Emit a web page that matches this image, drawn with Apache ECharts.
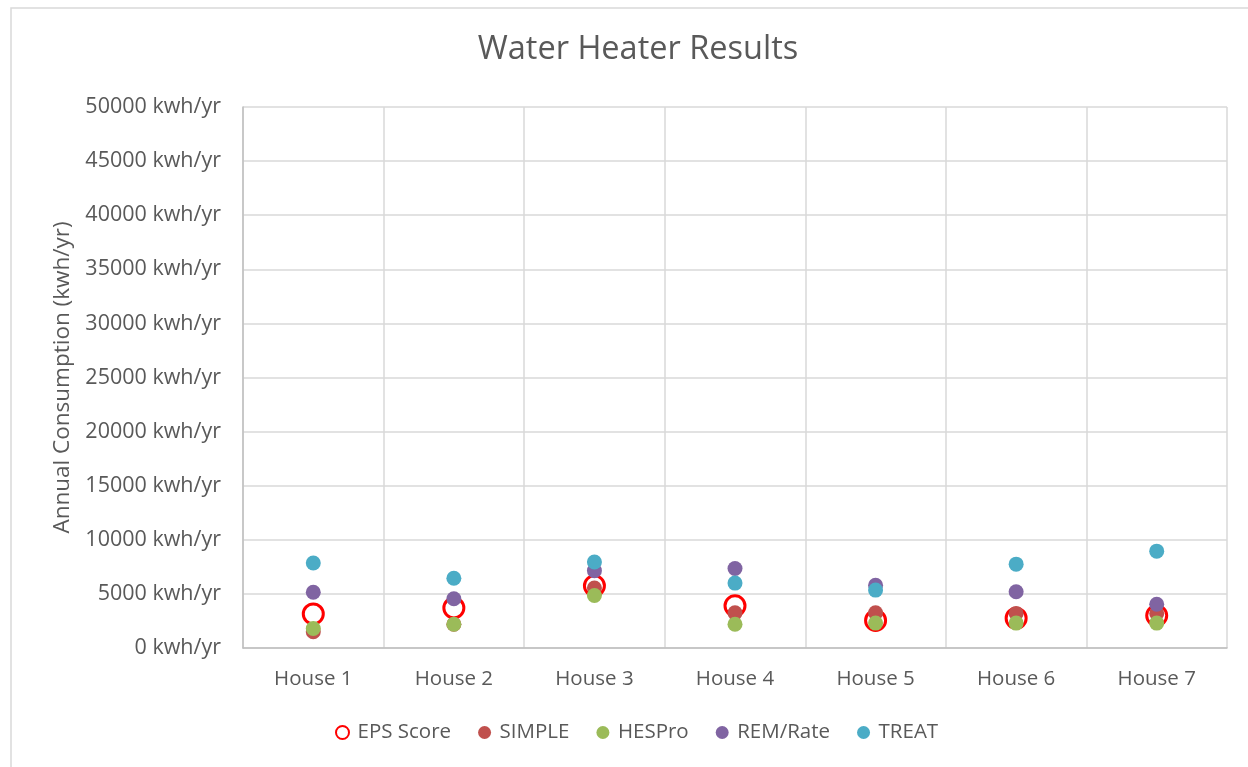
<!DOCTYPE html>
<html lang="en">
<head>
    <meta charset="utf-8">
    <title>Water Heater Results</title>
    <script src="https://cdn.jsdelivr.net/npm/echarts@6/dist/echarts.min.js"></script>
    <style>
        html, body { margin: 0; padding: 0; background: #fff; }
    </style>
</head>
<body>
<div id="main" style="width:1248px;height:767px;"></div>
<script>
    // data
    var houses = ['House 1', 'House 2', 'House 3', 'House 4', 'House 5', 'House 6', 'House 7'];
    var epsScore = [3150, 3700, 5750, 3900, 2550, 2750, 3000];
    var simple   = [1500, 2200, 5550, 3250, 3250, 3200, 3200];
    var hesPro   = [1800, 2200, 4850, 2200, 2300, 2300, 2300];
    var remRate  = [5150, 4550, 7150, 7350, 5800, 5200, 4050];
    var treat    = [7850, 6450, 7950, 6000, 5350, 7750, 8950];

    var textColor = '#595959';
    var font = 'Open Sans';

    var mCharts = echarts.init(document.getElementById('main'));

    function dots(name, data, color) {
        return {
            name: name,
            type: 'scatter',
            data: data,
            symbol: 'circle',
            symbolSize: 15,
            itemStyle: { color: color, opacity: 1 }
        };
    }

    var option = {
        animation: false,
        backgroundColor: '#fff',
        graphic: [{
            type: 'rect',
            shape: { x: 11, y: 8, width: 1400, height: 900 },
            style: { fill: 'none', stroke: '#D9D9D9', lineWidth: 1.5 },
            z: -1
        }],
        title: {
            text: 'Water Heater Results',
            left: 633,
            textAlign: 'center',
            top: 28,
            textStyle: { color: textColor, fontFamily: font, fontSize: 32.5, fontWeight: 'normal' }
        },
        legend: {
            bottom: 19,
            left: 330,
            itemWidth: 20,
            itemHeight: 13,
            itemGap: 27,
            textStyle: { color: textColor, fontFamily: font, fontSize: 20.5 },
            data: ['EPS Score', 'SIMPLE', 'HESPro', 'REM/Rate', 'TREAT']
        },
        grid: { left: 243, right: 21, top: 107, bottom: 119 },
        xAxis: {
            type: 'category',
            data: houses,
            boundaryGap: true,
            axisTick: { show: false },
            axisLine: { lineStyle: { color: '#BFBFBF', width: 1.5 } },
            splitLine: { show: true, lineStyle: { color: '#D9D9D9', width: 1.5 } },
            axisLabel: { color: textColor, fontFamily: font, fontSize: 20.5, margin: 21 }
        },
        yAxis: {
            type: 'value',
            min: 0,
            max: 50000,
            interval: 5000,
            name: 'Annual Consumption (kwh/yr)',
            nameLocation: 'middle',
            nameGap: 168,
            nameTextStyle: { color: textColor, fontFamily: font, fontSize: 22.5 },
            axisLine: { show: true, lineStyle: { color: '#BFBFBF', width: 1.5 } },
            axisTick: { show: false },
            splitLine: { lineStyle: { color: '#D9D9D9', width: 1.5 } },
            axisLabel: {
                color: textColor, fontFamily: font, fontSize: 21.5, margin: 22,
                formatter: function (v) { return v + ' kwh/yr'; }
            }
        },
        series: [
            {
                name: 'EPS Score',
                type: 'scatter',
                data: epsScore,
                symbol: 'circle',
                symbolSize: 20,
                itemStyle: { color: 'rgba(255,255,255,0)', borderColor: '#FF0000', borderWidth: 3, opacity: 1 }
            },
            dots('SIMPLE', simple, '#C0504D'),
            dots('HESPro', hesPro, '#9BBB59'),
            dots('REM/Rate', remRate, '#8064A2'),
            dots('TREAT', treat, '#4BACC6')
        ]
    };

    mCharts.setOption(option);
</script>
</body>
</html>
